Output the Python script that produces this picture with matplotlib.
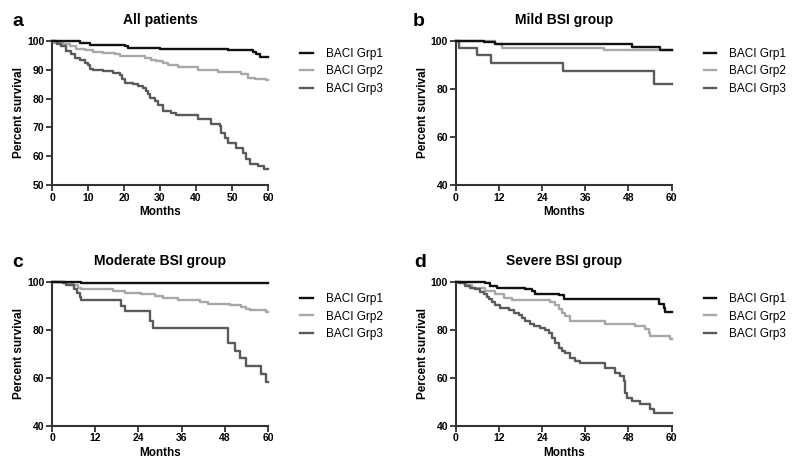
import matplotlib
matplotlib.use("Agg")
import matplotlib.pyplot as plt

plt.rcParams['font.family'] = ['Liberation Sans', 'DejaVu Sans']

# Kaplan-Meier step data: (months, percent survival)
# a) All patients
a_t1 = [0, 7.7, 10.5, 20.2, 21.1, 30, 48.9, 55.8, 56.8, 57.7, 60]
a_s1 = [100, 99.2, 98.6, 98.3, 97.7, 97.3, 96.9, 96.2, 95.4, 94.6, 94.6]
a_t2 = [0, 0.5, 3, 4.9, 6.8, 9.1, 11.4, 14.2, 17.4, 18.8, 25.7, 27.6, 29, 30.8,
        32.2, 35, 40.5, 46, 52.6, 54.4, 56.3, 59.5, 60]
a_s2 = [100, 99.4, 98.9, 98.3, 97.3, 96.8, 96.3, 95.9, 95.4, 94.8, 94.2, 93.4,
        92.9, 92.2, 91.6, 90.8, 89.8, 89.2, 88.4, 87.3, 86.7, 86.3, 86.3]
a_t3 = [0, 1.5, 2.6, 4, 5.4, 6.3, 7.7, 9.1, 10, 10.5, 11.4, 14.2, 17, 18.8, 19.4,
        20.2, 22.5, 23.9, 25.3, 26.2, 26.7, 27.1, 28.5, 29.4, 30.8, 33.1, 34.5,
        40.5, 44.3, 46.6, 47, 48, 48.9, 51.2, 53, 54, 54.9, 57.2, 59, 60]
a_s3 = [100, 99, 98.3, 96.5, 95.4, 94.2, 93.4, 92.5, 91.6, 90.2, 89.8, 89.6, 89,
        88.1, 86.7, 85.5, 85, 84.4, 83.6, 82.6, 81.5, 80.3, 79.2, 77.7, 75.7,
        74.9, 74.2, 72.8, 71.3, 70.5, 68.2, 66.4, 64.7, 63, 61.2, 58.9, 57.2,
        56.6, 55.7, 55.7]

# b) Mild BSI group
b_t1 = [0, 7.8, 11, 49, 56.8, 60]
b_s1 = [100, 99.4, 98.9, 97.6, 96.2, 96.2]
b_t2 = [0, 11, 13, 41.1, 60]
b_s2 = [100, 98.6, 97.2, 96.1, 96.1]
b_t3 = [0, 0.8, 6, 9.9, 29.8, 55, 60]
b_s3 = [100, 97.2, 94, 91, 87.5, 81.9, 81.9]

# c) Moderate BSI group
c_t1 = [0, 8.1, 60]
c_s1 = [100, 99.3, 99.3]
c_t2 = [0, 3.5, 5.8, 7.2, 8.1, 17, 20.2, 24.8, 28.5, 30.8, 35, 41, 43.3, 49.4,
        52.6, 54, 54.9, 59.5, 60]
c_s2 = [100, 99.6, 98.5, 97.5, 96.8, 96.1, 95.4, 94.7, 94, 93.4, 92.4, 91.5,
        90.6, 90.1, 89.5, 88.8, 88.1, 87.2, 87.2]
c_t3 = [0, 3, 4, 6.1, 7, 7.7, 8.1, 19.3, 20.2, 27.1, 28, 48.9, 50.7, 52.1, 54,
        58.1, 59.5, 60]
c_s3 = [100, 99.4, 98.5, 97.1, 95.4, 93.8, 92.4, 89.9, 87.8, 83.6, 80.8, 74.6,
        71.1, 68.3, 64.9, 61.4, 58.2, 58.2]

# d) Severe BSI group
d_t1 = [0, 8.2, 9.6, 11.5, 19.3, 21.2, 22.1, 28.8, 30, 56.4, 57.8, 58.2, 60]
d_s1 = [100, 99.3, 98.2, 97.5, 96.8, 96.1, 94.7, 94.3, 92.9, 90.6, 89.2, 87.4, 87.4]
d_t2 = [0, 1.7, 3.1, 4.5, 8.2, 11, 13.3, 15.6, 26.3, 27.7, 28.6, 29.5, 30.5,
        31.8, 41.6, 49.9, 52.7, 53.6, 54, 59.6, 60]
d_s2 = [100, 99.6, 98.5, 97.5, 96.1, 94.7, 93.4, 92.4, 91.5, 90.2, 88.5, 87.1,
        85.7, 83.6, 82.5, 81.5, 80.2, 78.5, 77.4, 76, 76]
d_t3 = [0, 0.8, 2.7, 4.1, 5.5, 6.8, 7.8, 8.7, 9.2, 10.1, 11, 12.4, 14.7, 16.1,
        17.5, 18.4, 19.3, 20.7, 21.7, 23.5, 24.9, 25.8, 26.7, 27.7, 28.6, 29.5,
        30.4, 31.8, 33.2, 34.6, 41.6, 44.3, 45.7, 46.7, 47.1, 47.6, 49, 51.3,
        54, 55, 60]
d_s3 = [100, 99.3, 98.2, 97.5, 96.8, 95.7, 94.7, 93.8, 92.9, 91.5, 90.2, 89.2,
        88.1, 87.1, 86, 85, 83.6, 82.5, 81.5, 80.8, 79.7, 78.5, 76.7, 74.6, 72.5,
        71.1, 70.2, 68.3, 67, 66, 64.2, 62.1, 60.7, 58.6, 53.8, 51.7, 50.3, 48.9,
        46.8, 45.2, 45.2]

series_names = ['BACI Grp1', 'BACI Grp2', 'BACI Grp3']
series_colors = ['#111111', '#a8a8a8', '#5a5a5a']
series_z = [5, 3, 4]  # black curve sits on top where they overlap

panels = [
    dict(tag='a', title='All patients', curves=[(a_t1, a_s1), (a_t2, a_s2), (a_t3, a_s3)],
         ylim=(50, 100), yticks=[50, 60, 70, 80, 90, 100], xticks=[0, 10, 20, 30, 40, 50, 60],
         pos=[0.065, 0.6064, 0.27, 0.3064], tagx=-0.185, legy=0.95),
    dict(tag='b', title='Mild BSI group', curves=[(b_t1, b_s1), (b_t2, b_s2), (b_t3, b_s3)],
         ylim=(40, 100), yticks=[40, 60, 80, 100], xticks=[0, 12, 24, 36, 48, 60],
         pos=[0.5696, 0.6064, 0.27, 0.3064], tagx=-0.2, legy=0.95),
    dict(tag='c', title='Moderate BSI group', curves=[(c_t1, c_s1), (c_t2, c_s2), (c_t3, c_s3)],
         ylim=(40, 100), yticks=[40, 60, 80, 100], xticks=[0, 12, 24, 36, 48, 60],
         pos=[0.065, 0.0943, 0.27, 0.3064], tagx=-0.185, legy=0.92),
    dict(tag='d', title='Severe BSI group', curves=[(d_t1, d_s1), (d_t2, d_s2), (d_t3, d_s3)],
         ylim=(40, 100), yticks=[40, 60, 80, 100], xticks=[0, 12, 24, 36, 48, 60],
         pos=[0.5696, 0.0943, 0.27, 0.3064], tagx=-0.19, legy=0.92),
]

fig = plt.figure(figsize=(8, 4.7), dpi=100)

for p in panels:
    ax = fig.add_axes(p['pos'])
    for (t, s), name, col, z in zip(p['curves'], series_names, series_colors, series_z):
        ax.step(t, s, where='post', color=col, lw=1.7, label=name, clip_on=False,
                zorder=z)

    ax.set_xlim(0, 60)
    ax.set_ylim(*p['ylim'])
    ax.set_xticks(p['xticks'])
    ax.set_yticks(p['yticks'])
    for sp in ['top', 'right']:
        ax.spines[sp].set_visible(False)
    for sp in ['left', 'bottom']:
        ax.spines[sp].set_linewidth(1.5)
        ax.spines[sp].set_color('#333333')
    ax.tick_params(direction='out', length=4, width=1.3, color='#333333',
                   labelsize=7.5, pad=1.5)
    for lab in ax.get_xticklabels() + ax.get_yticklabels():
        lab.set_fontweight('bold')

    ax.set_xlabel('Months', fontsize=8.5, fontweight='bold', labelpad=2.5)
    ax.set_ylabel('Percent survival', fontsize=8.5, fontweight='bold', labelpad=1.5)
    ax.set_title(p['title'], fontsize=10, fontweight='bold', pad=12)
    ax.text(p['tagx'], 1.135, p['tag'], transform=ax.transAxes, fontsize=14,
            fontweight='bold', va='center', ha='left')

    ax.legend(loc='upper left', bbox_to_anchor=(1.15, p['legy']), frameon=False,
              fontsize=8.5, handlelength=1.05, handletextpad=1.1,
              labelspacing=0.45, borderpad=0, borderaxespad=0)

fig.savefig('out.png', dpi=100)
